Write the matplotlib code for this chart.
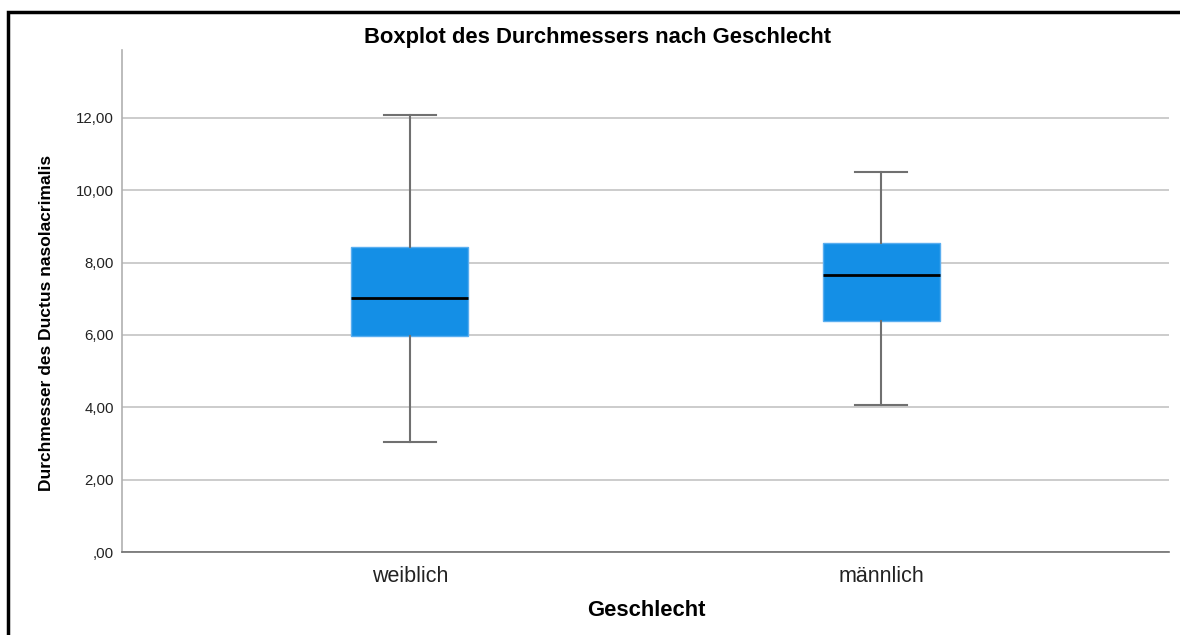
import matplotlib
matplotlib.use('Agg')
import matplotlib.pyplot as plt
from matplotlib.patches import Rectangle
from matplotlib.ticker import FuncFormatter

plt.rcParams['font.family'] = ['Liberation Sans', 'DejaVu Sans']

# Kennwerte der Boxplots je Geschlecht
gruppen = ['weiblich', 'männlich']
whisker_unten = [3.04, 4.06]
q1 = [5.97, 6.39]
median = [7.02, 7.66]
q3 = [8.43, 8.54]
whisker_oben = [12.08, 10.50]

stats = []
for i, g in enumerate(gruppen):
    stats.append({'label': g, 'whislo': whisker_unten[i], 'q1': q1[i],
                  'med': median[i], 'q3': q3[i], 'whishi': whisker_oben[i],
                  'fliers': []})

fig = plt.figure(figsize=(11.8, 6.35), dpi=100)
ax = fig.add_axes([0.1034, 0.1307, 0.8873, 0.7906])

ax.bxp(stats, positions=[1, 2], widths=0.248, patch_artist=True,
       showfliers=False,
       boxprops=dict(facecolor='#148fe6', edgecolor='#5aaef0', linewidth=1),
       medianprops=dict(color='black', linewidth=2),
       whiskerprops=dict(color='#707070', linewidth=1.5),
       capprops=dict(color='#707070', linewidth=1.5),
       capwidths=0.11)

ax.set_xlim(0.389, 2.611)
ax.set_ylim(0, 13.88)
ax.set_yticks([0, 2, 4, 6, 8, 10, 12])
ax.yaxis.set_major_formatter(FuncFormatter(
    lambda v, p: ',00' if v == 0 else f'{v:.2f}'.replace('.', ',')))
ax.yaxis.grid(True, color='#c4c4c4', linewidth=1.2)
ax.set_axisbelow(True)
ax.tick_params(axis='y', length=0, labelsize=10.8, colors='#222222', pad=6)
ax.tick_params(axis='x', length=0, labelsize=15.5, colors='#222222', pad=10)

for s in ['top', 'right']:
    ax.spines[s].set_visible(False)
ax.spines['left'].set_color('#b0b0b0')
ax.spines['bottom'].set_color('#707070')
ax.spines['left'].set_linewidth(1.2)
ax.spines['bottom'].set_linewidth(1.2)

fig.text(598 / 1180, 1 - 37 / 635, 'Boxplot des Durchmessers nach Geschlecht',
         ha='center', va='center', fontsize=15.8, fontweight='bold')
fig.text(646 / 1180, 1 - 611 / 635, 'Geschlecht', ha='center', va='center',
         fontsize=15.8, fontweight='bold')
fig.text(47 / 1180, 1 - 323 / 635, 'Durchmesser des Ductus nasolacrimalis',
         ha='center', va='center', rotation=90, fontsize=12.5,
         fontweight='bold', family=['Liberation Sans Narrow', 'Liberation Sans'])

# Rahmen um die Grafik
fig.patches.append(Rectangle((8 / 1180, -0.1), 1.2, 1 - 12 / 635 + 0.1,
                             transform=fig.transFigure, fill=False,
                             edgecolor='black', linewidth=2.5))

fig.savefig('out.png', dpi=100)
